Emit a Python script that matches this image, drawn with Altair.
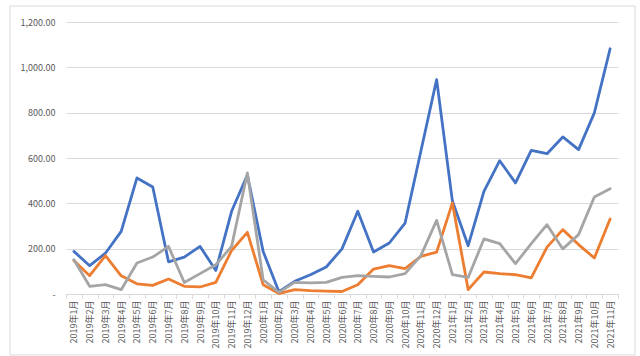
import altair as alt
import pandas as pd

months = [f"2019年{m}月" for m in range(1, 13)] + [f"2020年{m}月" for m in range(1, 13)] + [f"2021年{m}月" for m in range(1, 12)]

series_names = ["系列1", "系列2", "系列3"]
series_colors = ["#4472C4", "#ED7D31", "#A5A5A5"]

blue = [188, 125, 180, 276, 512, 472, 142, 163, 210, 104, 365, 525,
        188, 10, 56, 85, 119, 199, 365, 185, 225, 313, 630, 946,
        410, 213, 453, 588, 490, 634, 619, 693, 637, 799, 1082]
orange = [148, 81, 169, 80, 45, 38, 66, 34, 31, 51, 192, 272,
          41, 2, 19, 15, 13, 11, 41, 110, 125, 112, 166, 185,
          402, 19, 97, 90, 85, 71, 207, 284, 218, 159, 331]
gray = [151, 34, 41, 19, 137, 163, 210, 51, 90, 129, 210, 534,
        63, 7, 51, 49, 51, 73, 81, 78, 75, 90, 169, 325,
        85, 73, 243, 222, 134, 222, 306, 199, 262, 428, 464]

rows = []
for name, vals in zip(series_names, [blue, orange, gray]):
    for i, (m, v) in enumerate(zip(months, vals)):
        rows.append({"month": m, "value": v, "series": name, "s_order": series_names.index(name), "idx": i})
df = pd.DataFrame(rows)

FONT = "Noto Sans CJK SC"

lines = alt.Chart(df).mark_line(strokeWidth=2.8, strokeJoin="round", strokeCap="round").encode(
    x=alt.X("month:N", sort=months, title=None,
            scale=alt.Scale(paddingInner=0, paddingOuter=0),
            axis=alt.Axis(labelAngle=-90, labelFontSize=9, labelColor="#595959", labelFont=FONT,
                          tickBand="extent", tickSize=4, tickColor="#d9d9d9",
                          domainColor="#d9d9d9", labelPadding=2, grid=False)),
    y=alt.Y("value:Q", title=None,
            scale=alt.Scale(domain=[0, 1200], nice=False),
            axis=alt.Axis(values=[0, 200, 400, 600, 800, 1000, 1200],
                          labelExpr="datum.value == 0 ? '-\u00a0\u00a0\u00a0' : format(datum.value, ',.2f')",
                          labelFontSize=9, labelColor="#595959", labelFont=FONT,
                          domain=False, ticks=False, labelPadding=11,
                          gridColor="#d9d9d9", gridWidth=1)),
    color=alt.Color("series:N", scale=alt.Scale(domain=series_names, range=series_colors), legend=None),
    order=alt.Order("idx:Q"),
    detail="series:N",
)

border = alt.Chart(pd.DataFrame({"a": [0]})).mark_rect(
    fillOpacity=0, stroke="#d9d9d9", strokeWidth=1
).encode(
    x=alt.value(-56), x2=alt.value(569), y=alt.value(-16), y2=alt.value(333)
)

chart = alt.layer(border, lines).properties(
    width=552, height=272,
    autosize=alt.AutoSizeParams(type="none"),
    padding={"left": 66, "top": 22, "right": 22, "bottom": 62},
    background="white",
).configure_view(stroke=None)

chart.save("out.html", embed_options={"renderer": "svg", "actions": False})
